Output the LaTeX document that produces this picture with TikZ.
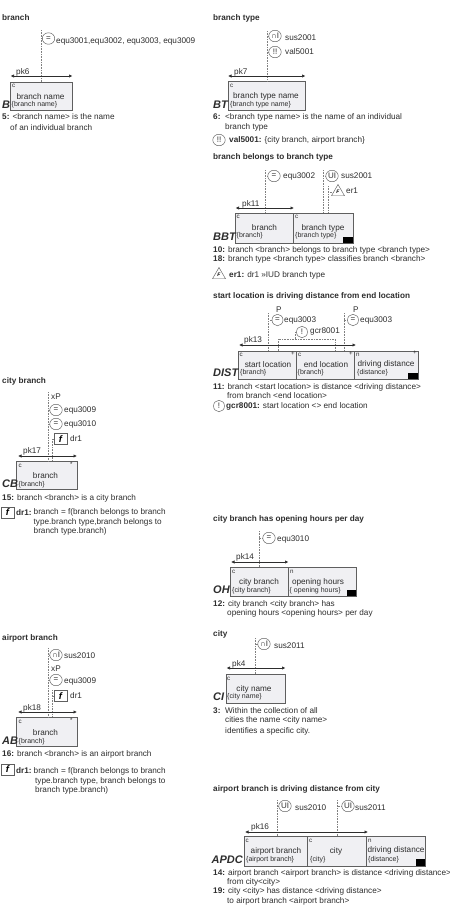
\documentclass[tikz,border=0pt]{standalone}
\usepackage{fontspec}
\setmainfont{Liberation Sans}
\usepackage{tikz}
\usetikzlibrary{arrows.meta,shapes.geometric}
\definecolor{BoxFill}{RGB}{240,240,243}
\definecolor{BoxLine}{RGB}{95,95,95}
\definecolor{InkGray}{RGB}{45,45,45}
\tikzset{
  lab/.style={anchor=west,inner sep=0pt,text=InkGray,font=\fontsize{8.2}{9.5}\selectfont},
  head/.style={lab,font=\fontsize{8.2}{9.5}\selectfont\bfseries},
  tiny/.style={lab,font=\fontsize{6.2}{7}\selectfont},
  sublab/.style={lab,font=\fontsize{7}{8}\selectfont},
  boxlab/.style={lab,anchor=center},
  code/.style={lab,font=\fontsize{11}{12}\selectfont\bfseries\itshape},
  rolebox/.style={draw=BoxLine,fill=BoxFill,line width=0.9pt,anchor=north west,inner sep=0pt,outer sep=0pt},
  blackmark/.style={fill=black,anchor=south east,inner sep=0pt,outer sep=0pt,minimum width=10pt,minimum height=6pt},
  cons/.style={ellipse,draw=BoxLine,fill=white,line width=0.45pt,inner sep=0pt,minimum width=12.5pt,minimum height=11.5pt,text=InkGray,font=\fontsize{8}{8}\selectfont},
  fbox/.style={draw=BoxLine,fill=white,line width=0.6pt,inner sep=0pt,minimum width=13pt,minimum height=10.5pt,font=\fontsize{9.5}{9}\selectfont\bfseries\itshape},
  warn/.style={regular polygon,regular polygon sides=3,draw=BoxLine,fill=white,line width=0.45pt,inner sep=0pt,minimum size=15pt,font=\fontsize{5}{5}\selectfont\bfseries\itshape},
  rolelink/.style={draw=black!50,line width=0.6pt,densely dotted},
  pkarrow/.style={draw=InkGray,line width=0.7pt,{Latex[length=3.5pt,width=3.5pt]}-{Latex[length=3.5pt,width=3.5pt]}},
}
\begin{document}
\begin{tikzpicture}[x=1pt,y=-1pt]
\useasboundingbox (0,0) rectangle (450,906);
% branch
\node[head] (hB) at (2,18) {branch};
\node[rolebox,minimum width=62.5pt,minimum height=28pt] (bB) at (10,82) {};
\coordinate (lB) at (41.5,30);
\draw[rolelink] (lB) -- (lB |- bB.north);
\node[cons] (eB) at (48.5,38.5) {=};
\draw[rolelink] (eB.west) -- (eB.west -| lB);
\node[lab] (tB) at (56,41) {equ3001,equ3002, equ3003, equ3009};
\coordinate (pB1) at (10.5,76);
\coordinate (pB2) at (72.5,76);
\draw[pkarrow] (pB1) -- (pB2);
\node[lab] (kB) at (16,72) {pk6};
\node[tiny] (cB) at (12,85.5) {c};
\node[boxlab] (nB) at (40.5,97) {branch name};
\node[sublab] (sB) at (11.5,104.5) {\{branch name\}};
\node[code] (iB) at (2,104.5) {B};
\node[lab] (f5a) at (2,117) {\textbf{5:} <branch name> is the name};
\node[lab] (f5b) at (10,128) {of an individual branch};
% branch type
\node[head] (hBT) at (213,18) {branch type};
\node[rolebox,minimum width=77.5pt,minimum height=29pt] (bBT) at (228,81) {};
\coordinate (lBT) at (267,31);
\draw[rolelink,line width=1pt] (lBT) -- (lBT |- bBT.north);
\node[cons] (eBT1) at (275,36) {∩I};
\node[cons] (eBT2) at (275,52) {!!};
\draw[rolelink] (eBT1.west) -- (eBT1.west -| lBT);
\draw[rolelink] (eBT2.west) -- (eBT2.west -| lBT);
\node[lab] (tBT1) at (285,38) {sus2001};
\node[lab] (tBT2) at (285,52) {val5001};
\coordinate (pBT1) at (228,76);
\coordinate (pBT2) at (305.5,76);
\draw[pkarrow] (pBT1) -- (pBT2);
\node[lab] (kBT) at (234,72) {pk7};
\node[tiny] (cBT) at (230,86) {c};
\node[boxlab] (nBT) at (266,96) {branch type name};
\node[sublab] (sBT) at (230,105) {\{branch type name\}};
\node[code] (iBT) at (213,104.5) {BT};
\node[lab] (f6a) at (213,117) {\textbf{6:}};
\node[lab] (f6b) at (225,117) {<branch type name> is the name of an individual};
\node[lab] (f6c) at (225,127) {branch type};
\node[cons] (eVal) at (219,140) {!!};
\node[lab] (f6d) at (229,140) {\textbf{val5001:} \{city branch, airport branch\}};
% branch belongs to branch type
\node[head] (hBBT) at (213,157) {branch belongs to branch type};
\node[rolebox,minimum width=58pt,minimum height=30pt] (bBBT1) at (235,213) {};
\node[rolebox,minimum width=60pt,minimum height=30pt] (bBBT2) at (bBBT1.north east) {};
\node[blackmark] (mBBT) at (bBBT2.south east) {};
\coordinate (lBBT1) at (265,170);
\coordinate (lBBT2) at (323,170);
\coordinate (lBBT3) at (328,186);
\draw[rolelink] (lBBT1) -- (lBBT1 |- bBBT1.north);
\draw[rolelink] (lBBT2) -- (lBBT2 |- bBBT2.north);
\draw[rolelink] (lBBT3) -- (lBBT3 |- bBBT2.north);
\node[cons] (eBBT1) at (274,176) {=};
\node[cons] (eBBT2) at (332,176) {UI};
\node[warn] (wBBT) at (338,192) {F};
\draw[rolelink] (eBBT1.west) -- (eBBT1.west -| lBBT1);
\draw[rolelink] (eBBT2.west) -- (eBBT2.west -| lBBT2);
\draw[rolelink] (wBBT.west) -- (wBBT.west -| lBBT3);
\node[lab] (tBBT1) at (283,176) {equ3002};
\node[lab] (tBBT2) at (341,176) {sus2001};
\node[lab] (tBBT3) at (346,191) {er1};
\coordinate (pBBT1) at (235.5,208);
\coordinate (pBBT2) at (294,208);
\draw[pkarrow] (pBBT1) -- (pBBT2);
\node[lab] (kBBT) at (242,204) {pk11};
\node[tiny] (cBBT1) at (236.5,217) {c};
\node[tiny] (cBBT2) at (295,217) {c};
\node[boxlab] (nBBT1) at (264.5,228) {branch};
\node[boxlab] (nBBT2) at (323,228) {branch type};
\node[sublab] (sBBT1) at (236.5,236) {\{branch\}};
\node[sublab] (sBBT2) at (295,236) {\{branch type\}};
\node[code] (iBBT) at (213,237) {BBT};
\node[lab] (f10) at (213,250) {\textbf{10:} branch <branch> belongs to branch type <branch type>};
\node[lab] (f18) at (213,259) {\textbf{18:} branch type <branch type> classifies branch <branch>};
\node[warn] (wEr) at (219,275) {F};
\node[lab] (fEr) at (229,275) {\textbf{er1:} dr1 »IUD branch type};
% start location is driving distance from end location
\node[head] (hDIST) at (213,296) {start location is driving distance from end location};
\node[rolebox,minimum width=58pt,minimum height=28pt] (bDIST1) at (238,351) {};
\node[rolebox,minimum width=58pt,minimum height=28pt] (bDIST2) at (bDIST1.north east) {};
\node[rolebox,minimum width=64pt,minimum height=28pt] (bDIST3) at (bDIST2.north east) {};
\node[blackmark] (mDIST) at (bDIST3.south east) {};
\coordinate (lDIST1) at (268.7,313);
\coordinate (lDIST2) at (344,313);
\draw[rolelink] (lDIST1) -- (lDIST1 |- bDIST1.north);
\draw[rolelink] (lDIST2) -- (lDIST2 |- bDIST2.north);
\node[lab] (xDIST1) at (276,310) {P};
\node[lab] (xDIST2) at (353,310) {P};
\node[cons,minimum width=11pt] (eDIST1) at (277.5,320) {=};
\node[cons,minimum width=11pt] (eDIST2) at (353,320) {=};
\draw[rolelink] (eDIST1.west) -- (eDIST1.west -| lDIST1);
\draw[rolelink] (eDIST2.west) -- (eDIST2.west -| lDIST2);
\node[lab] (tDIST1) at (284,320) {equ3003};
\node[lab] (tDIST2) at (360,320) {equ3003};
\node[cons,minimum width=11pt] (eGcr) at (302,332) {!};
\node[lab] (tGcr) at (310,331) {gcr8001};
\coordinate (gDIST1) at (278,351);
\coordinate (gDIST2) at (278,339);
\coordinate (gDIST3) at (335,339);
\coordinate (gDIST4) at (335,351);
\coordinate (gDIST5) at (295,339);
\coordinate (gDIST6) at (295,332);
\draw[rolelink] (gDIST1) -- (gDIST2) -- (gDIST3) -- (gDIST4);
\draw[rolelink] (gDIST5) -- (gDIST6) -- (eGcr.west);
\coordinate (pDIST1) at (239,345);
\coordinate (pDIST2) at (356,345);
\draw[pkarrow] (pDIST1) -- (pDIST2);
\node[lab] (kDIST) at (244,340) {pk13};
\node[tiny] (cDIST1) at (239.5,355) {c};
\node[tiny] (cDIST2) at (298,355) {c};
\node[tiny] (cDIST3) at (356,355) {n};
\node[tiny] (pDIST3) at (291,354) {+};
\node[tiny] (pDIST4) at (349,354) {+};
\node[tiny] (pDIST5) at (413,353) {+};
\node[boxlab] (nDIST1) at (268,365) {start location};
\node[boxlab] (nDIST2) at (326,365) {end location};
\node[boxlab] (nDIST3) at (386,364) {driving distance};
\node[sublab] (sDIST1) at (240,373) {\{branch\}};
\node[sublab] (sDIST2) at (297.5,373) {\{branch\}};
\node[sublab] (sDIST3) at (357,373) {\{distance\}};
\node[code] (iDIST) at (213,373) {DIST};
\node[lab] (f11a) at (213,387) {\textbf{11:} branch <start location> is distance <driving distance>};
\node[lab] (f11b) at (227,396) {from branch <end location>};
\node[cons,minimum width=11pt] (eGcr2) at (219,406) {!};
\node[lab] (fGcr) at (226,406) {\textbf{gcr8001:} start location <> end location};
% city branch
\node[head] (hCB) at (2,381) {city branch};
\node[rolebox,minimum width=60.5pt,minimum height=28pt] (bCB) at (16.5,461) {};
\coordinate (lCB1) at (48,392);
\coordinate (lCB2) at (52,439);
\draw[rolelink,line width=1pt] (lCB1) -- (lCB1 |- bCB.north);
\draw[rolelink] (lCB2) -- (lCB2 |- bCB.north);
\node[lab] (xCB) at (51,397) {xP};
\node[cons] (eCB1) at (56,410) {=};
\node[cons] (eCB2) at (56,424) {=};
\node[fbox] (dCB) at (60.5,439) {f};
\draw[rolelink] (eCB1.west) -- (eCB1.west -| lCB1);
\draw[rolelink] (eCB2.west) -- (eCB2.west -| lCB1);
\draw[rolelink] (dCB.west) -- (dCB.west -| lCB2);
\node[lab] (tCB1) at (64,410) {equ3009};
\node[lab] (tCB2) at (64,424) {equ3010};
\node[lab] (tCB3) at (70,439) {dr1};
\coordinate (pCB1) at (18,456);
\coordinate (pCB2) at (77,456);
\draw[pkarrow] (pCB1) -- (pCB2);
\node[lab] (kCB) at (23,451) {pk17};
\node[tiny] (cCB) at (18.5,466) {c};
\node[tiny] (aCB) at (70,464.5) {*};
\node[boxlab] (nCB) at (45.5,476) {branch};
\node[sublab] (sCB) at (18.5,485) {\{branch\}};
\node[code] (iCB) at (2,484) {CB};
\node[lab] (f15) at (2,498) {\textbf{15:} branch <branch> is a city branch};
\node[fbox,minimum height=11pt] (dCB2) at (7.5,512.5) {f};
\node[lab] (fCBa) at (16,512.5) {\textbf{dr1:}};
\node[lab] (fCBb) at (33.5,512.5) {branch = f(branch belongs to branch};
\node[lab] (fCBc) at (33.5,522) {type.branch type,branch belongs to};
\node[lab] (fCBd) at (33.5,531) {branch type.branch)};
% airport branch
\node[head] (hAB) at (2,638) {airport branch};
\node[rolebox,minimum width=60.5pt,minimum height=29pt] (bAB) at (16.5,717) {};
\coordinate (lAB1) at (48,648);
\coordinate (lAB2) at (52,690);
\draw[rolelink,line width=1pt] (lAB1) -- (lAB1 |- bAB.north);
\draw[rolelink] (lAB2) -- (lAB2 |- bAB.north);
\node[cons] (eAB1) at (56,655) {∩I};
\node[lab] (xAB) at (51,669) {xP};
\node[cons] (eAB2) at (56,680) {=};
\node[fbox] (dAB) at (60.5,696) {f};
\draw[rolelink] (eAB1.west) -- (eAB1.west -| lAB1);
\draw[rolelink] (eAB2.west) -- (eAB2.west -| lAB1);
\draw[rolelink] (dAB.west) -- (dAB.west -| lAB2);
\node[lab] (tAB1) at (64,656) {sus2010};
\node[lab] (tAB2) at (64,681) {equ3009};
\node[lab] (tAB3) at (70,696) {dr1};
\coordinate (pAB1) at (18,712);
\coordinate (pAB2) at (77,712);
\draw[pkarrow] (pAB1) -- (pAB2);
\node[lab] (kAB) at (23,708) {pk18};
\node[tiny] (cAB) at (18.5,722) {c};
\node[tiny] (aAB) at (70,720.5) {*};
\node[boxlab] (nAB) at (45.5,733) {branch};
\node[sublab] (sAB) at (18.5,741.5) {\{branch\}};
\node[code] (iAB) at (2,741) {AB};
\node[lab] (f16) at (2,754) {\textbf{16:} branch <branch> is an airport branch};
\node[fbox,minimum height=11pt] (dAB2) at (7.5,769.5) {f};
\node[lab] (fABa) at (16,771) {\textbf{dr1:}};
\node[lab] (fABb) at (33.5,771) {branch = f(branch belongs to branch};
\node[lab] (fABc) at (35,781) {type.branch type, branch belongs to};
\node[lab] (fABd) at (35,790) {branch type.branch)};
% city branch has opening hours per day
\node[head] (hOH) at (213,519) {city branch has opening hours per day};
\node[rolebox,minimum width=58pt,minimum height=29pt] (bOH1) at (230,567) {};
\node[rolebox,minimum width=68pt,minimum height=29pt] (bOH2) at (bOH1.north east) {};
\node[blackmark,minimum width=9pt] (mOH) at (bOH2.south east) {};
\coordinate (lOH) at (259.3,531);
\draw[rolelink] (lOH) -- (lOH |- bOH1.north);
\node[cons] (eOH) at (269,538) {=};
\draw[rolelink] (eOH.west) -- (eOH.west -| lOH);
\node[lab] (tOH) at (277,539) {equ3010};
\coordinate (pOH1) at (231,562);
\coordinate (pOH2) at (288.5,562);
\draw[pkarrow] (pOH1) -- (pOH2);
\node[lab] (kOH) at (236,557) {pk14};
\node[tiny] (cOH1) at (232,572) {c};
\node[tiny] (cOH2) at (290,572) {n};
\node[boxlab] (nOH1) at (259,582) {city branch};
\node[boxlab] (nOH2) at (318,582) {opening hours};
\node[sublab] (sOH1) at (232,590.5) {\{city branch\}};
\node[sublab] (sOH2) at (289.5,590.5) {\{ opening hours\}};
\node[code] (iOH) at (213,590) {OH};
\node[lab] (f12a) at (213,604) {\textbf{12:} city branch <city branch> has};
\node[lab] (f12b) at (227,613) {opening hours <opening hours> per day};
% city
\node[head] (hCI) at (213,634) {city};
\node[rolebox,minimum width=59.5pt,minimum height=29pt] (bCI) at (226,674) {};
\coordinate (lCI) at (255.5,638);
\draw[rolelink] (lCI) -- (lCI |- bCI.north);
\node[cons] (eCI) at (264,644) {∩I};
\draw[rolelink] (eCI.west) -- (eCI.west -| lCI);
\node[lab] (tCI) at (274,646) {sus2011};
\coordinate (pCI1) at (226.5,668);
\coordinate (pCI2) at (285.5,668);
\draw[pkarrow] (pCI1) -- (pCI2);
\node[lab] (kCI) at (232,664) {pk4};
\node[tiny] (cCI) at (227,679) {c};
\node[boxlab] (nCI) at (254,689) {city name};
\node[sublab] (sCI) at (227,697) {\{city name\}};
\node[code] (iCI) at (213,697) {CI};
\node[lab] (f3a) at (213,711) {\textbf{3:}};
\node[lab] (f3b) at (225,711) {Within the collection of all};
\node[lab] (f3c) at (225,720) {cities the name <city name>};
\node[lab] (f3d) at (225,731) {identifies a specific city.};
% airport branch is driving distance from city
\node[head] (hAPDC) at (213,789) {airport branch is driving distance from city};
\node[rolebox,minimum width=63pt,minimum height=30pt] (bAPDC1) at (244,836) {};
\node[rolebox,minimum width=59pt,minimum height=30pt] (bAPDC2) at (bAPDC1.north east) {};
\node[rolebox,minimum width=59pt,minimum height=30pt] (bAPDC3) at (bAPDC2.north east) {};
\node[blackmark,minimum width=9pt,minimum height=7pt] (mAPDC) at (bAPDC3.south east) {};
\coordinate (lAPDC1) at (277,800);
\coordinate (lAPDC2) at (337,800);
\draw[rolelink] (lAPDC1) -- (lAPDC1 |- bAPDC1.north);
\draw[rolelink] (lAPDC2) -- (lAPDC2 |- bAPDC2.north);
\node[cons] (eAPDC1) at (285,806) {UI};
\node[cons] (eAPDC2) at (348,806) {UI};
\draw[rolelink] (eAPDC1.west) -- (eAPDC1.west -| lAPDC1);
\draw[rolelink] (eAPDC2.west) -- (eAPDC2.west -| lAPDC2);
\node[lab] (tAPDC1) at (295,808) {sus2010};
\node[lab] (tAPDC2) at (355,808) {sus2011};
\coordinate (pAPDC1) at (245,832);
\coordinate (pAPDC2) at (368,832);
\draw[pkarrow] (pAPDC1) -- (pAPDC2);
\node[lab] (kAPDC) at (251,827) {pk16};
\node[tiny] (cAPDC1) at (245.5,841) {c};
\node[tiny] (cAPDC2) at (309,841) {c};
\node[tiny] (cAPDC3) at (368,841) {n};
\node[boxlab] (nAPDC1) at (276,851) {airport branch};
\node[boxlab] (nAPDC2) at (336,851) {city};
\node[boxlab] (nAPDC3) at (396,850) {driving distance};
\node[sublab] (sAPDC1) at (246,860) {\{airport branch\}};
\node[sublab] (sAPDC2) at (310,860) {\{city\}};
\node[sublab] (sAPDC3) at (368,860) {\{distance\}};
\node[code,anchor=east] (iAPDC) at (243,860) {APDC};
\node[lab] (f14a) at (213,873) {\textbf{14:} airport branch <airport branch> is distance <driving distance>};
\node[lab] (f14b) at (227,882) {from city<city>};
\node[lab] (f19a) at (213,891) {\textbf{19:} city <city> has distance <driving distance>};
\node[lab] (f19b) at (227,901) {to airport branch <airport branch>};
\end{tikzpicture}
\end{document}
